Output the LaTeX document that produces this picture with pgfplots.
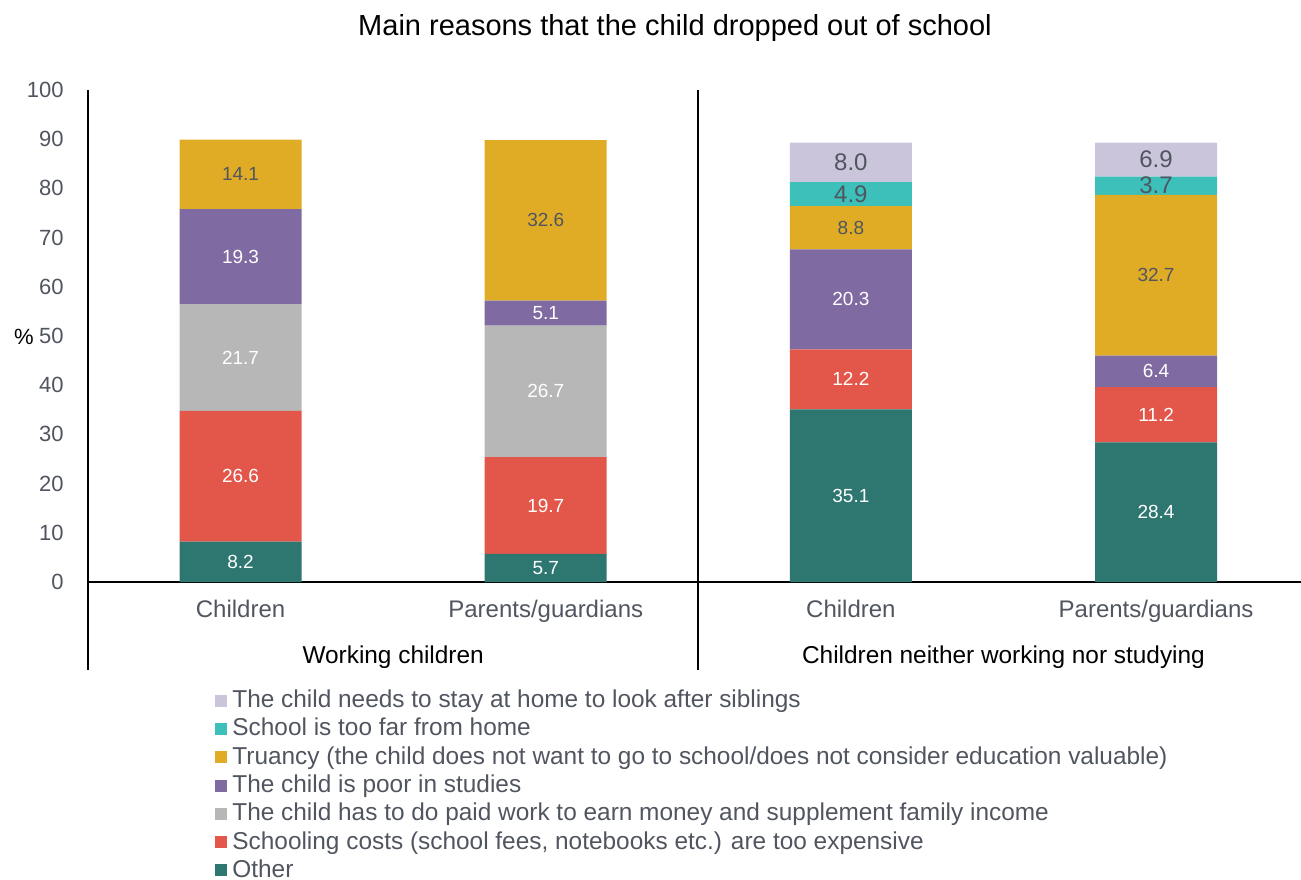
\documentclass[border=0pt]{standalone}
\usepackage{fontspec}
\setmainfont{Liberation Sans}
\usepackage{pgfplots}
\pgfplotsset{compat=1.18}

\definecolor{cOther}{HTML}{2E7670}
\definecolor{cCost}{HTML}{E3564A}
\definecolor{cPaid}{HTML}{B7B7B7}
\definecolor{cPoor}{HTML}{7F6BA2}
\definecolor{cTruant}{HTML}{E0AC26}
\definecolor{cFar}{HTML}{3EC0BA}
\definecolor{cSib}{HTML}{CBC5DC}
\definecolor{txt}{HTML}{50555F}

% label in the middle of each stacked segment; zero segments get no label
\def\zeroval{0}
\newcommand{\seglabel}{\ifx\pgfplotspointmeta\zeroval\else\pgfplotspointmeta\fi}

\begin{document}
\begin{tikzpicture}[font=\color{txt}]
\path[use as bounding box] (-44pt,-148.5pt) rectangle (606.5pt,291pt);
\begin{axis}[
    at={(0,0)}, anchor=south west,
    scale only axis,
    width=606.5pt, height=246pt,
    ybar stacked,
    bar width=61pt,
    xmin=-0.5, xmax=3.475,
    ymin=0, ymax=100,
    clip=false,
    axis x line*=bottom, axis y line*=left,
    axis line style={black, line width=1pt, -},
    ytick={0,10,...,100},
    xtick={0,1,2,3},
    xticklabels={Children, Parents/guardians, Children, Parents/guardians},
    major tick length=0pt,
    /pgf/number format/assume math mode=true,
    yticklabel style={anchor=east, inner sep=0pt, xshift=-12pt,
        font=\fontsize{11}{13}\selectfont\color{txt}},
    xticklabel style={anchor=base, inner sep=0pt, yshift=-17.5pt,
        font=\fontsize{12}{14}\selectfont\color{txt}},
    point meta=explicit symbolic,
    nodes near coords={\seglabel},
    every node near coord/.append style={anchor=center, inner sep=0pt,
        font=\fontsize{9.5}{11}\selectfont},
    reverse legend,
    legend style={at={(rel axis cs:0.1047,-0.222)}, anchor=north west,
        draw=none, fill=none, font=\fontsize{12.2}{14}\selectfont\color{txt},
        row sep=4.15pt, inner sep=0pt,
        nodes={inner sep=0pt, text height=8pt, text depth=2pt},
        cells={anchor=west}},
    legend image code/.code={\fill[#1] (0pt,-2.5pt) rectangle (6pt,3.5pt); \path (8.5pt,0pt);},
]
\addplot[fill=cOther, draw=none, every node near coord/.append style={white}]
  coordinates {(0,8.2) [8.2] (1,5.7) [5.7] (2,35.1) [35.1] (3,28.4) [28.4]};
\addlegendentry{Other}
\addplot[fill=cCost, draw=none, every node near coord/.append style={white}]
  coordinates {(0,26.6) [26.6] (1,19.7) [19.7] (2,12.2) [12.2] (3,11.2) [11.2]};
\addlegendentry{Schooling costs (school fees, notebooks etc.) are too expensive}
\addplot[fill=cPaid, draw=none, every node near coord/.append style={white}]
  coordinates {(0,21.7) [21.7] (1,26.7) [26.7] (2,0) [0] (3,0) [0]};
\addlegendentry{The child has to do paid work to earn money and supplement family income}
\addplot[fill=cPoor, draw=none, every node near coord/.append style={white}]
  coordinates {(0,19.3) [19.3] (1,5.1) [5.1] (2,20.3) [20.3] (3,6.4) [6.4]};
\addlegendentry{The child is poor in studies}
\addplot[fill=cTruant, draw=none, every node near coord/.append style={txt}]
  coordinates {(0,14.1) [14.1] (1,32.6) [32.6] (2,8.8) [8.8] (3,32.7) [32.7]};
\addlegendentry{Truancy (the child does not want to go to school/does not consider education valuable)}
\addplot[fill=cFar, draw=none, every node near coord/.append style={txt, font=\fontsize{12}{14}\selectfont}]
  coordinates {(0,0) [0] (1,0) [0] (2,4.9) [4.9] (3,3.7) [3.7]};
\addlegendentry{School is too far from home}
\addplot[fill=cSib, draw=none, every node near coord/.append style={txt, font=\fontsize{12}{14}\selectfont}]
  coordinates {(0,0) [0] (1,0) [0] (2,8.0) [8.0] (3,6.9) [6.9]};
\addlegendentry{The child needs to stay at home to look after siblings}

% group separators and group names
\draw[black, line width=1pt] (axis cs:-0.5,0) -- ++(0pt,-44pt);
\draw[black, line width=1pt] (axis cs:1.5,0) -- ++(0pt,-44pt);
\draw[black, line width=1pt] (axis cs:1.5,0) -- (axis cs:1.5,100);
\node[anchor=base, inner sep=0pt, font=\fontsize{12.2}{14}\selectfont] at ([yshift=-40.5pt]axis cs:0.5,0) {Working children};
\node[anchor=base, inner sep=0pt, font=\fontsize{12.2}{14}\selectfont] at ([yshift=-40.5pt]axis cs:2.5,0) {Children neither working nor studying};
\end{axis}
\node[anchor=base, inner sep=0pt, font=\fontsize{14.5}{17}\selectfont] at (293.5pt,273pt) {Main reasons that the child dropped out of school};
\node[inner sep=0pt, font=\fontsize{11}{13}\selectfont] at (-32pt,122.5pt) {\%};
\end{tikzpicture}
\end{document}
